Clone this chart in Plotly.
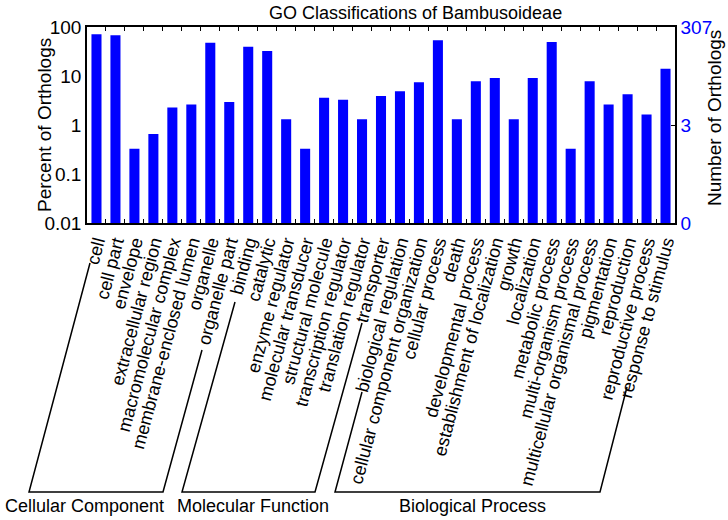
import math
import plotly.graph_objects as go

# ---- data ----
categories = [
    "cell", "cell part", "envelope", "extracellular region", "macromolecular complex",
    "membrane-enclosed lumen", "organelle", "organelle part",
    "binding", "catalytic", "enzyme regulator", "molecular transducer",
    "structural molecule", "transcription regulator", "translation regulator", "transporter",
    "biological regulation", "cellular component organization", "cellular process", "death",
    "developmental process", "establishment of localization", "growth", "localization",
    "metabolic process", "multi-organism process", "multicellular organismal process",
    "pigmentation", "reproduction", "reproductive process", "response to stimulus",
]
counts = [218, 208, 1, 2, 7, 8, 147, 9,
          122, 99, 4, 1, 11, 10, 4, 12,
          15, 23, 164, 4, 24, 28, 4, 28, 152, 1, 24, 8, 13, 5, 43]
total_orthologs = 307
percent = [c / total_orthologs * 100 for c in counts]

left_tickvals = [0.01, 0.1, 1, 10, 100]
left_ticktext = ["0.01", "0.1", "1", "10", "100"]
right_ticktext = ["0", "3", "307"]

groups = ["Cellular Component", "Molecular Function", "Biological Process"]

# ---- layout geometry (pixels) ----
W, H = 728, 520
L, R, T, B = 87, 675, 27, 223
FONT = "Liberation Sans, Arial, sans-serif"

def px(x):
    return (x - L) / (R - L)

def py(y):
    return (B - y) / (B - T)

fig = go.Figure()
fig.add_trace(go.Bar(x=categories, y=percent, marker=dict(color="#0000ff", line=dict(width=0)),
                     hoverinfo="x+y"))
fig.add_trace(go.Scatter(x=categories, y=counts, yaxis="y2", mode="markers",
                         marker=dict(opacity=0), hoverinfo="skip", showlegend=False))

fig.update_layout(
    width=W, height=H,
    margin=dict(l=L, r=W - R, t=T, b=H - B, autoexpand=False),
    paper_bgcolor="white", plot_bgcolor="white",
    showlegend=False,
    bargap=0.47,
    font=dict(family=FONT, color="black"),
    xaxis=dict(
        type="category", tickmode="linear", dtick=1, tick0=0,
        range=[-0.5, len(categories) - 0.5],
        tickangle=-75, tickfont=dict(size=18, family=FONT, color="black"),
        showline=True, linecolor="black", linewidth=1.5, mirror="ticks",
        ticks="inside", ticklen=4, tickcolor="black", tickson="boundaries",
        showgrid=False, zeroline=False, automargin=False,
    ),
    yaxis=dict(
        type="log", range=[-2, 2], tickmode="array", tickvals=left_tickvals, ticktext=left_ticktext,
        tickfont=dict(size=19, family=FONT, color="black"),
        showline=True, linecolor="black", linewidth=1.5, ticks="",
        showgrid=False, zeroline=False, automargin=False,
    ),
    yaxis2=dict(
        type="log", overlaying="y", side="right",
        range=[math.log10(total_orthologs * 1e-4), math.log10(total_orthologs)],
        tickmode="array",
        tickvals=[total_orthologs * 1e-4, total_orthologs * 1e-2, total_orthologs],
        ticktext=right_ticktext,
        tickfont=dict(size=19, family=FONT, color="#0000ff"),
        showline=True, linecolor="black", linewidth=1.5,
        ticks="inside", ticklen=4, tickcolor="black",
        showgrid=False, zeroline=False, automargin=False,
    ),
)

annotations = [
    dict(text="GO Classifications of Bambusoideae", x=px(415), y=py(13), xref="paper", yref="paper",
         showarrow=False, font=dict(size=18, family=FONT, color="black"), xanchor="center", yanchor="middle"),
    dict(text="Percent of Orthologs", x=px(44), y=py(125), xref="paper", yref="paper", textangle=-90,
         showarrow=False, font=dict(size=19, family=FONT, color="black"), xanchor="center", yanchor="middle"),
    dict(text="Number of Orthologs", x=px(714), y=py(118), xref="paper", yref="paper", textangle=-90,
         showarrow=False, font=dict(size=19, family=FONT, color="black"), xanchor="center", yanchor="middle"),
]
group_centers = [84, 253, 472]
for g, cx in zip(groups, group_centers):
    annotations.append(dict(text=g, x=px(cx), y=py(506), xref="paper", yref="paper", showarrow=False,
                            font=dict(size=18, family=FONT, color="black"),
                            xanchor="center", yanchor="middle"))
fig.update_layout(annotations=annotations)

brackets = [
    [(90, 263), (29, 492), (163, 492), (202, 350)],
    [(235, 302), (182, 492), (315, 492), (362, 323)],
    [(362, 392), (335, 492), (600, 492), (627, 387)],
]
shapes = []
for pts in brackets:
    path = "M " + " L ".join(f"{px(x):.5f},{py(y):.5f}" for x, y in pts)
    shapes.append(dict(type="path", path=path, xref="paper", yref="paper",
                       line=dict(color="black", width=1.5)))
fig.update_layout(shapes=shapes)

fig.write_html("out.html", config={"displayModeBar": False},
               post_script="document.body.style.margin='0';document.body.style.padding='0';")
